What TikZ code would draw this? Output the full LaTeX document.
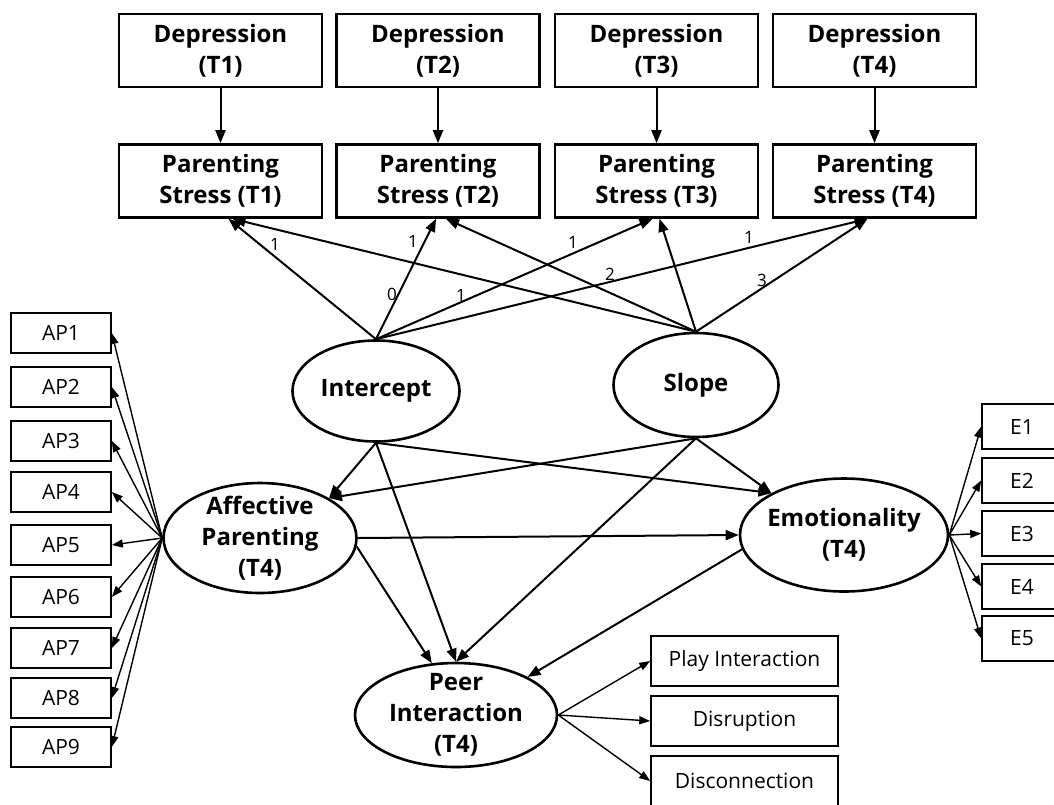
\documentclass[tikz,border=0pt]{standalone}
\usepackage{fontspec}
\setmainfont{Open Sans}
\usetikzlibrary{shapes.geometric, arrows.meta, calc}

\begin{document}
\begin{tikzpicture}[x = 1pt, y = -1pt,
    bigbox/.style  = {draw, line width = 2.6pt, minimum width = 203pt, minimum height = 73pt,
                      inner sep = 0pt, align = center, font = \bfseries\fontsize{24}{31}\selectfont},
    latent/.style  = {draw, ellipse, line width = 2.6pt, inner sep = -10pt, align = center,
                      font = \bfseries\fontsize{24}{31}\selectfont},
    indic/.style   = {draw, line width = 1.6pt, inner sep = 0pt, font = \fontsize{21}{26}\selectfont},
    causal/.style  = {line width = 2pt, -{Triangle[length = 13pt, width = 10pt]}},
    loading/.style = {line width = 1.4pt, -{Triangle[length = 11pt, width = 8pt]}},
    coef/.style    = {inner sep = 0pt, font = \fontsize{17}{20}\selectfont}]
  \useasboundingbox (0, 0) rectangle (1054, 804);

  % repeated measures
  \node[bigbox] at (220.5,  50.5) (dep1) {Depression\\(T1)};
  \node[bigbox] at (438,    50.5) (dep2) {Depression\\(T2)};
  \node[bigbox] at (656.5,  50.5) (dep3) {Depression\\(T3)};
  \node[bigbox] at (874.5,  50.5) (dep4) {Depression\\(T4)};

  \node[bigbox] at (220.5, 181)   (ps1)  {Parenting\\Stress (T1)};
  \node[bigbox] at (438,   181)   (ps2)  {Parenting\\Stress (T2)};
  \node[bigbox] at (656.5, 181)   (ps3)  {Parenting\\Stress (T3)};
  \node[bigbox] at (874.5, 181)   (ps4)  {Parenting\\Stress (T4)};

  % latent factors
  \node[latent, minimum width = 167pt, minimum height = 101pt] at (376, 391) (icpt)   {Intercept};
  \node[latent, minimum width = 165pt, minimum height = 104pt] at (696, 385) (slope)  {Slope};
  \node[latent, minimum width = 193pt, minimum height = 110pt] at (260, 538) (affect) {Affective\\Parenting\\(T4)};
  \node[latent, minimum width = 208pt, minimum height = 113pt] at (844, 535) (emot)   {Emotionality\\(T4)};
  \node[latent, minimum width = 202pt, minimum height = 104pt] at (456, 715) (peer)   {Peer\\Interaction\\(T4)};

  % indicators
  \node[indic, minimum width = 100pt, minimum height = 40pt] at (61, 333) (ap1) {AP1};
  \node[indic, minimum width = 100pt, minimum height = 40pt] at (61, 387) (ap2) {AP2};
  \node[indic, minimum width = 100pt, minimum height = 40pt] at (61, 441) (ap3) {AP3};
  \node[indic, minimum width = 100pt, minimum height = 40pt] at (61, 492) (ap4) {AP4};
  \node[indic, minimum width = 100pt, minimum height = 40pt] at (61, 545) (ap5) {AP5};
  \node[indic, minimum width = 100pt, minimum height = 40pt] at (61, 597) (ap6) {AP6};
  \node[indic, minimum width = 100pt, minimum height = 40pt] at (61, 648) (ap7) {AP7};
  \node[indic, minimum width = 100pt, minimum height = 40pt] at (61, 698) (ap8) {AP8};
  \node[indic, minimum width = 100pt, minimum height = 40pt] at (61, 747) (ap9) {AP9};

  \node[indic, minimum width = 80pt, minimum height = 45pt] at (1022, 426.5) (e1) {E1};
  \node[indic, minimum width = 80pt, minimum height = 45pt] at (1022, 480.5) (e2) {E2};
  \node[indic, minimum width = 80pt, minimum height = 45pt] at (1022, 533.5) (e3) {E3};
  \node[indic, minimum width = 80pt, minimum height = 45pt] at (1022, 586.5) (e4) {E4};
  \node[indic, minimum width = 80pt, minimum height = 45pt] at (1022, 638.5) (e5) {E5};

  \node[indic, minimum width = 187pt, minimum height = 50pt] at (744.5, 661) (play) {Play Interaction};
  \node[indic, minimum width = 187pt, minimum height = 50pt] at (744.5, 721) (disr) {Disruption};
  \node[indic, minimum width = 187pt, minimum height = 50pt] at (744.5, 781) (disc) {Disconnection};

  % depression -> stress
  \draw[causal] (dep1) -- (ps1);
  \draw[causal] (dep2) -- (ps2);
  \draw[causal] (dep3) -- (ps3);
  \draw[causal] (dep4) -- (ps4);

  % growth factor loadings
  \draw[causal] (icpt.north)  -- ($(ps1.south) + ( 8, 0)$);
  \draw[causal] (icpt.north)  -- ($(ps2.south) + (-2, 0)$);
  \draw[causal] (icpt.north)  -- ($(ps3.south) + (-4, 0)$);
  \draw[causal] (icpt.north)  -- ($(ps4.south) + (-7, 0)$);
  \draw[causal] (slope.north) -- ($(ps1.south) + (12, 0)$);
  \draw[causal] (slope.north) -- ($(ps2.south) + ( 8, 0)$);
  \draw[causal] (slope.north) -- ($(ps3.south) + ( 3, 0)$);
  \draw[causal] (slope.north) -- ($(ps4.south) + (-7, 0)$);

  \node[coef] at (275, 244) (c1) {1};
  \node[coef] at (413, 241) (c2) {1};
  \node[coef] at (573, 242) (c3) {1};
  \node[coef] at (749, 237) (c4) {1};
  \node[coef] at (392, 294) (s1) {0};
  \node[coef] at (461, 295) (s2) {1};
  \node[coef] at (610, 274) (s3) {2};
  \node[coef] at (762, 280) (s4) {3};

  % structural paths
  \draw[causal] (icpt.south)  -- (affect.30);
  \draw[causal] (icpt.south)  -- (peer.north);
  \draw[causal] (icpt.south)  -- (emot.150);
  \draw[causal] (slope.south) -- (affect.30);
  \draw[causal] (slope.south) -- (peer.north);
  \draw[causal] (slope.south) -- (emot.150);
  \draw[causal] (affect.east) -- (emot.west);
  \draw[causal] (affect.-5)   -- (peer.115);
  \draw[causal] (emot.188)    -- (peer.28);

  % measurement
  \draw[loading] (affect.west) -- (ap1.east);
  \draw[loading] (affect.west) -- (ap2.east);
  \draw[loading] (affect.west) -- (ap3.east);
  \draw[loading] (affect.west) -- (ap4.east);
  \draw[loading] (affect.west) -- (ap5.east);
  \draw[loading] (affect.west) -- (ap6.east);
  \draw[loading] (affect.west) -- (ap7.east);
  \draw[loading] (affect.west) -- (ap8.east);
  \draw[loading] (affect.west) -- (ap9.east);

  \draw[loading] (emot.east) -- (e1.west);
  \draw[loading] (emot.east) -- (e2.west);
  \draw[loading] (emot.east) -- (e3.west);
  \draw[loading] (emot.east) -- (e4.west);
  \draw[loading] (emot.east) -- (e5.west);

  \draw[loading] (peer.east) -- (play.west);
  \draw[loading] (peer.east) -- (disr.west);
  \draw[loading] (peer.east) -- (disc.west);
\end{tikzpicture}
\end{document}
